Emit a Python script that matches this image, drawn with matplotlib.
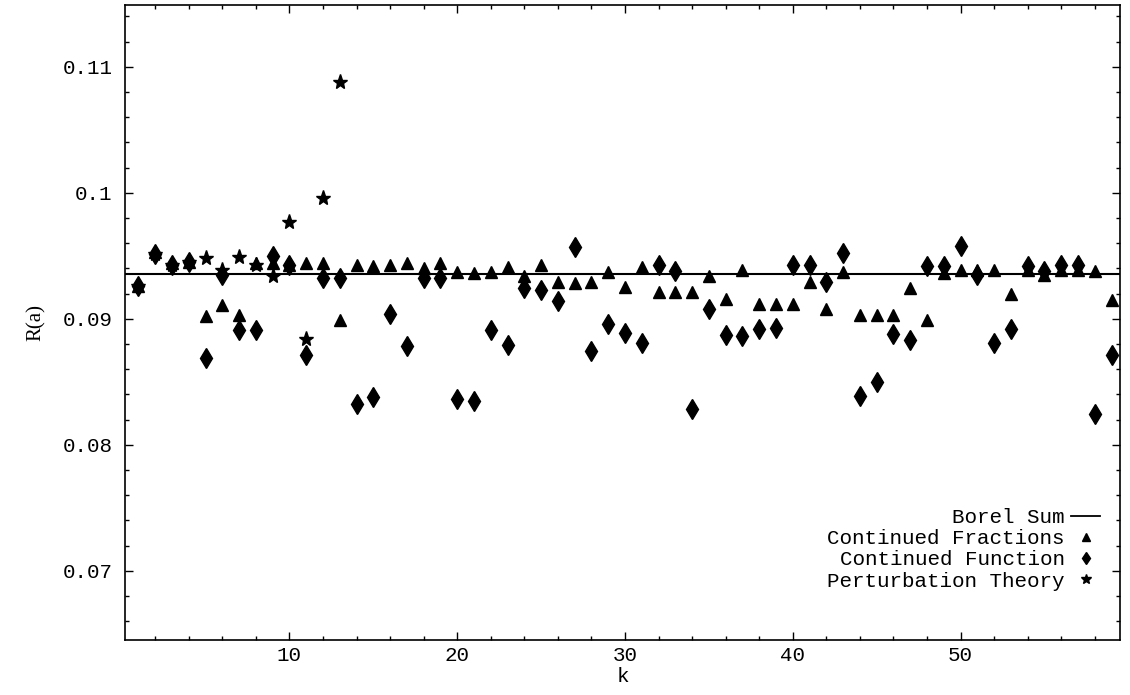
import numpy as np
import matplotlib
matplotlib.use("Agg")
import matplotlib.pyplot as plt
from matplotlib.lines import Line2D
from matplotlib.ticker import MultipleLocator

# values
k = np.arange(1, 60)

borel_sum = 0.09355

cont_fractions = [
    0.0926, 0.0953, 0.0944, 0.0945, 0.0902, 0.0911, 0.0903, 0.0944, 0.0944, 0.0943,
    0.0944, 0.0944, 0.0899, 0.0943, 0.0942, 0.0943, 0.0944, 0.0940, 0.0944, 0.0937,
    0.0936, 0.0937, 0.0941, 0.0934, 0.0943, 0.0929, 0.0928, 0.0929, 0.0937, 0.0925,
    0.0941, 0.0921, 0.0921, 0.0921, 0.0934, 0.0916, 0.0939, 0.0912, 0.0912, 0.0912,
    0.0929, 0.0908, 0.0937, 0.0903, 0.0903, 0.0903, 0.0924, 0.0899, 0.0936, 0.0939,
    0.0939, 0.0939, 0.0920, 0.0939, 0.0935, 0.0939, 0.0939, 0.0938, 0.0915,
]

cont_function = [
    0.0926, 0.0951, 0.0943, 0.0945, 0.0869, 0.0935, 0.0891, 0.0891, 0.0950, 0.0943,
    0.0871, 0.0932, 0.0932, 0.0832, 0.0838, 0.0904, 0.0878, 0.0932, 0.0932, 0.0836,
    0.0835, 0.0891, 0.0879, 0.0924, 0.0923, 0.0914, 0.0957, 0.0874, 0.0896, 0.0889,
    0.0881, 0.0943, 0.0938, 0.0828, 0.0908, 0.0887, 0.0886, 0.0892, 0.0893, 0.0943,
    0.0943, 0.0929, 0.0952, 0.0839, 0.0850, 0.0888, 0.0883, 0.0942, 0.0942, 0.0958,
    0.0935, 0.0881, 0.0892, 0.0942, 0.0938, 0.0943, 0.0943, 0.0824, 0.0871,
]

k_pert = np.arange(1, 14)
perturbation = [
    0.0926, 0.0951, 0.0943, 0.0945, 0.0948, 0.0939, 0.0949, 0.0943, 0.0934, 0.0977,
    0.0884, 0.0996, 0.1088,
]

mono = "Liberation Mono"
serif = "Liberation Serif"

fig = plt.figure(figsize=(11.3, 6.95), dpi=100)
ax = fig.add_axes([0.1106, 0.0791, 0.8805, 0.9137])

ax.axhline(borel_sum, color="black", lw=1.5, zorder=1)
ax.plot(k, cont_fractions, linestyle="", marker="^", ms=8, color="black", zorder=2)
ax.plot(k, cont_function, linestyle="", marker="d", ms=10.5, color="black", zorder=3)
ax.plot(k_pert, perturbation, linestyle="", marker="*", ms=11, color="black", zorder=4)

ax.set_xlim(0.2, 59.5)
ax.set_ylim(0.0645, 0.1149)

ax.xaxis.set_major_locator(MultipleLocator(10))
ax.xaxis.set_minor_locator(MultipleLocator(2))
ax.yaxis.set_major_locator(MultipleLocator(0.01))
ax.yaxis.set_minor_locator(MultipleLocator(0.002))
ax.yaxis.set_major_formatter(plt.FuncFormatter(lambda v, p: f"{v:.2f}".rstrip("0")))

ax.tick_params(which="both", direction="in", top=True, right=True, width=1)
ax.tick_params(which="major", length=6, labelsize=15)
ax.tick_params(axis="y", which="major", pad=9)
ax.tick_params(axis="x", which="major", pad=4)
ax.tick_params(which="minor", length=3)
for lab in ax.get_xticklabels() + ax.get_yticklabels():
    lab.set_fontfamily(mono)
for sp in ax.spines.values():
    sp.set_linewidth(1.2)

ax.set_xlabel("k", fontfamily=mono, fontsize=15, labelpad=2)
ax.set_ylabel("R(a)", fontfamily=serif, fontsize=15, labelpad=12)

handles = [
    Line2D([], [], color="black", lw=1.3),
    Line2D([], [], linestyle="", marker="^", ms=6, color="black"),
    Line2D([], [], linestyle="", marker="d", ms=6.5, color="black"),
    Line2D([], [], linestyle="", marker="*", ms=7.5, color="black"),
]
labels = ["Borel Sum", "Continued Fractions", "Continued Function", "Perturbation Theory"]
leg = ax.legend(handles, labels, loc="lower right", markerfirst=False, frameon=False,
                prop={"family": mono, "size": 15}, handlelength=1.4, handletextpad=0.3,
                labelspacing=0.1, borderaxespad=0.3, bbox_to_anchor=(0.995, 0.055))
for t in leg.get_texts():
    t.set_ha("right")

fig.savefig("out.png", dpi=100)
